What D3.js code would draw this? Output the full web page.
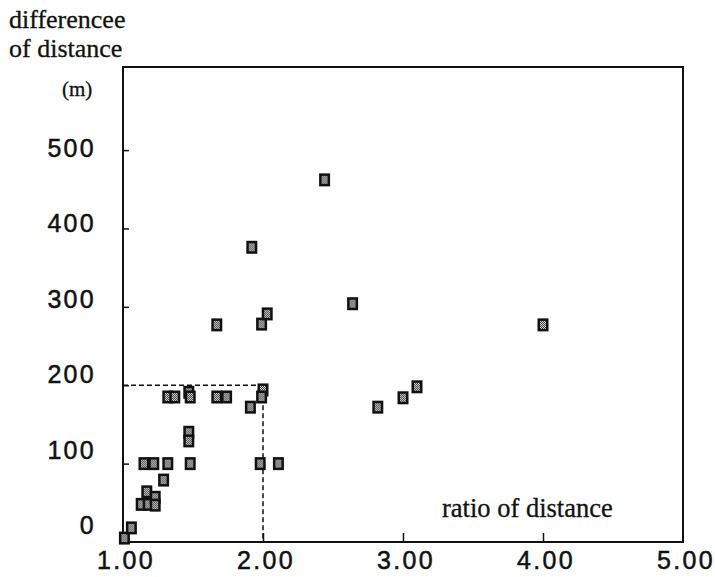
<!DOCTYPE html>
<html>
<head>
<meta charset="utf-8">
<script src="https://cdn.jsdelivr.net/npm/d3@7"></script>
<style>
  body { margin: 0; background: #fff; }
  .tick-label { font-family: "Liberation Sans", Arial, sans-serif; font-size: 25px; letter-spacing: 2.3px; fill: #111; stroke: #111; stroke-width: 0.5px; }
  .title { font-family: "Liberation Serif", "Times New Roman", serif; fill: #111; stroke: #111; stroke-width: 0.3px; }
</style>
</head>
<body>
<svg></svg>
<script>
// ratio of distance (x) and difference of distance in m (y)
const ratio = [1.01, 1.06, 1.13, 1.18, 1.17, 1.23, 1.23, 1.29,
               1.15, 1.22, 1.32, 1.48, 1.98, 2.11,
               1.47, 1.47, 1.32, 1.37, 1.47, 1.48, 1.67, 1.74, 1.91, 2.00, 1.99,
               2.82, 3.00, 3.10, 1.67, 1.99, 2.03, 1.92, 2.44, 2.64, 4.00]
const diff  = [5, 18, 48, 48, 64, 57, 47, 79,
               100, 100, 100, 100, 100, 100,
               140, 129, 185, 185, 191, 185, 185, 185, 172, 194, 185,
               172, 184, 198, 277, 278, 291, 376, 462, 304, 277]

const xTicks = [1, 2, 3, 4, 5]
const yTicks = [0, 100, 200, 300, 400, 500]
const guideX = 2, guideY = 200
const yTop = 606

const width = 715, height = 577
const margin = { top: 67, right: 32, bottom: 35, left: 123 }

const svg = d3.select('svg')
    .attr('width', width)
    .attr('height', height)

const x = d3.scaleLinear()
    .domain([1, 5])
    .range([margin.left, width - margin.right])

const y = d3.scaleLinear()
    .domain([0, yTop])
    .range([height - margin.bottom, margin.top])

// printed labels sit a little off the tick marks in the original
const yLab = d3.scaleLinear()
    .domain([0, 500])
    .range([534, 157])

// marker fill
const defs = svg.append('defs')
const pat = defs.append('pattern')
    .attr('id', 'dots')
    .attr('width', 2).attr('height', 2)
    .attr('patternUnits', 'userSpaceOnUse')
pat.append('rect').attr('width', 2).attr('height', 2).attr('fill', '#f2f2f2')
pat.append('rect').attr('width', 1).attr('height', 1).attr('fill', '#222')
pat.append('rect').attr('x', 1).attr('y', 1).attr('width', 1).attr('height', 1).attr('fill', '#222')

// frame
svg.append('rect')
    .attr('x', x(1)).attr('y', y(yTop))
    .attr('width', x(5) - x(1))
    .attr('height', y(0) - y(yTop))
    .attr('fill', 'none')
    .attr('stroke', '#111')
    .attr('stroke-width', 2)

// inward ticks
svg.append('g')
    .attr('transform', `translate(${x(1)},0)`)
    .call(d3.axisLeft(y).tickValues(yTicks.slice(1)).tickSize(-6).tickFormat(''))
    .call(g => g.select('.domain').remove())
    .call(g => g.selectAll('line').attr('stroke', '#111').attr('stroke-width', 1.5))

svg.append('g')
    .attr('transform', `translate(0,${y(0)})`)
    .call(d3.axisBottom(x).tickValues(xTicks.slice(1, 4)).tickSize(-9).tickFormat(''))
    .call(g => g.select('.domain').remove())
    .call(g => g.selectAll('line').attr('stroke', '#111').attr('stroke-width', 1.5))

// tick labels
svg.selectAll('.ylab')
    .data(yTicks)
    .enter()
    .append('text')
    .attr('class', 'tick-label')
    .attr('x', 96)
    .attr('y', d => yLab(d))
    .attr('text-anchor', 'end')
    .text(d => d)

svg.selectAll('.xlab')
    .data(xTicks)
    .enter()
    .append('text')
    .attr('class', 'tick-label')
    .attr('x', d => x(d) + 3)
    .attr('y', 569)
    .attr('text-anchor', 'middle')
    .text(d => d3.format('.2f')(d))

// dashed guide
svg.append('path')
    .attr('d', `M${x(1)},${y(guideY)}H${x(guideX)}V${y(0)}`)
    .attr('fill', 'none')
    .attr('stroke', '#111')
    .attr('stroke-width', 1.5)
    .attr('stroke-dasharray', '5,3')

// points
const pts = svg.append('g')
    .selectAll('g')
    .data(d3.zip(ratio, diff))
    .enter()
    .append('g')
    .attr('transform', d => `translate(${x(d[0])},${y(d[1])})`)

pts.append('rect')
    .attr('x', -5.5).attr('y', -6.5)
    .attr('width', 11).attr('height', 13)
    .attr('fill', '#111')
pts.append('rect')
    .attr('x', -3).attr('y', -4)
    .attr('width', 6).attr('height', 8)
    .attr('fill', 'url(#dots)')

// titles
const t = svg.append('text').attr('class', 'title').attr('font-size', 26)
t.append('tspan').attr('x', 9).attr('y', 28).text('differencee')
t.append('tspan').attr('x', 9).attr('y', 57).text('of distance')

svg.append('text')
    .attr('class', 'title')
    .attr('font-size', 21)
    .attr('x', 62).attr('y', 96)
    .text('(m)')

svg.append('text')
    .attr('class', 'title')
    .attr('font-size', 26.5)
    .attr('x', 442).attr('y', 517)
    .text('ratio of distance')
</script>
</body>
</html>
